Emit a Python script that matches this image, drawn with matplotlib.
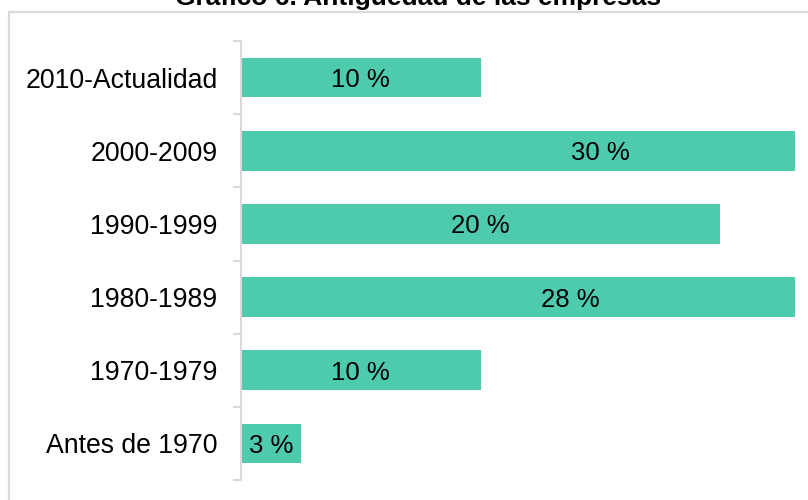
import matplotlib.pyplot as plt
from matplotlib.patches import Rectangle

# data, bottom to top
categories = ['Antes de 1970', '1970-1979', '1980-1989', '1990-1999', '2000-2009', '2010-Actualidad']
values = [2.5, 10, 27.5, 20, 30, 10]
labels = ['3 %', '10 %', '28 %', '20 %', '30 %', '10 %']

plt.rcParams['font.family'] = ['Liberation Sans', 'DejaVu Sans']

bar_color = '#4ecbad'
grey = '#d9d9d9'

fig = plt.figure(figsize=(8.08, 5.0), dpi=100)
ax = fig.add_axes([241 / 808, 20 / 500, (795 - 241) / 808, (480 - 41) / 500])

# border of the (cropped) chart area
fig.patches.append(Rectangle((9 / 808, -0.2), 2.0, 1.2 - 12 / 500,
                             transform=fig.transFigure, fill=False,
                             edgecolor=grey, linewidth=1.6, zorder=0))

# title is cut by the top edge of the image, as in the source
fig.text(418 / 808, 1 - 5 / 500, 'Gráfico 6. Antigüedad de las empresas',
         ha='center', va='baseline', fontsize=19, fontweight='bold')

y = range(len(categories))
ax.barh(y, values, height=0.54, color=bar_color)
for yi, v, lab in zip(y, values, labels):
    ax.text(v / 2, yi, lab, ha='center', va='center_baseline', fontsize=18.5, color='black')

ax.set_xlim(0, (795 - 241) / 23.95)
ax.set_ylim(-0.5, len(categories) - 0.5)
ax.set_yticks(list(y))
ax.set_yticklabels(categories, fontsize=19.2)
ax.set_yticks([i - 0.5 for i in range(len(categories) + 1)], minor=True)
ax.tick_params(axis='y', which='major', length=0, pad=17)
ax.tick_params(axis='y', which='minor', length=6, width=1.5, color=grey, direction='out')
ax.set_xticks([])

for s in ['top', 'right', 'bottom']:
    ax.spines[s].set_visible(False)
ax.spines['left'].set_color(grey)
ax.spines['left'].set_linewidth(1.5)

fig.savefig('out.png', dpi=100)
